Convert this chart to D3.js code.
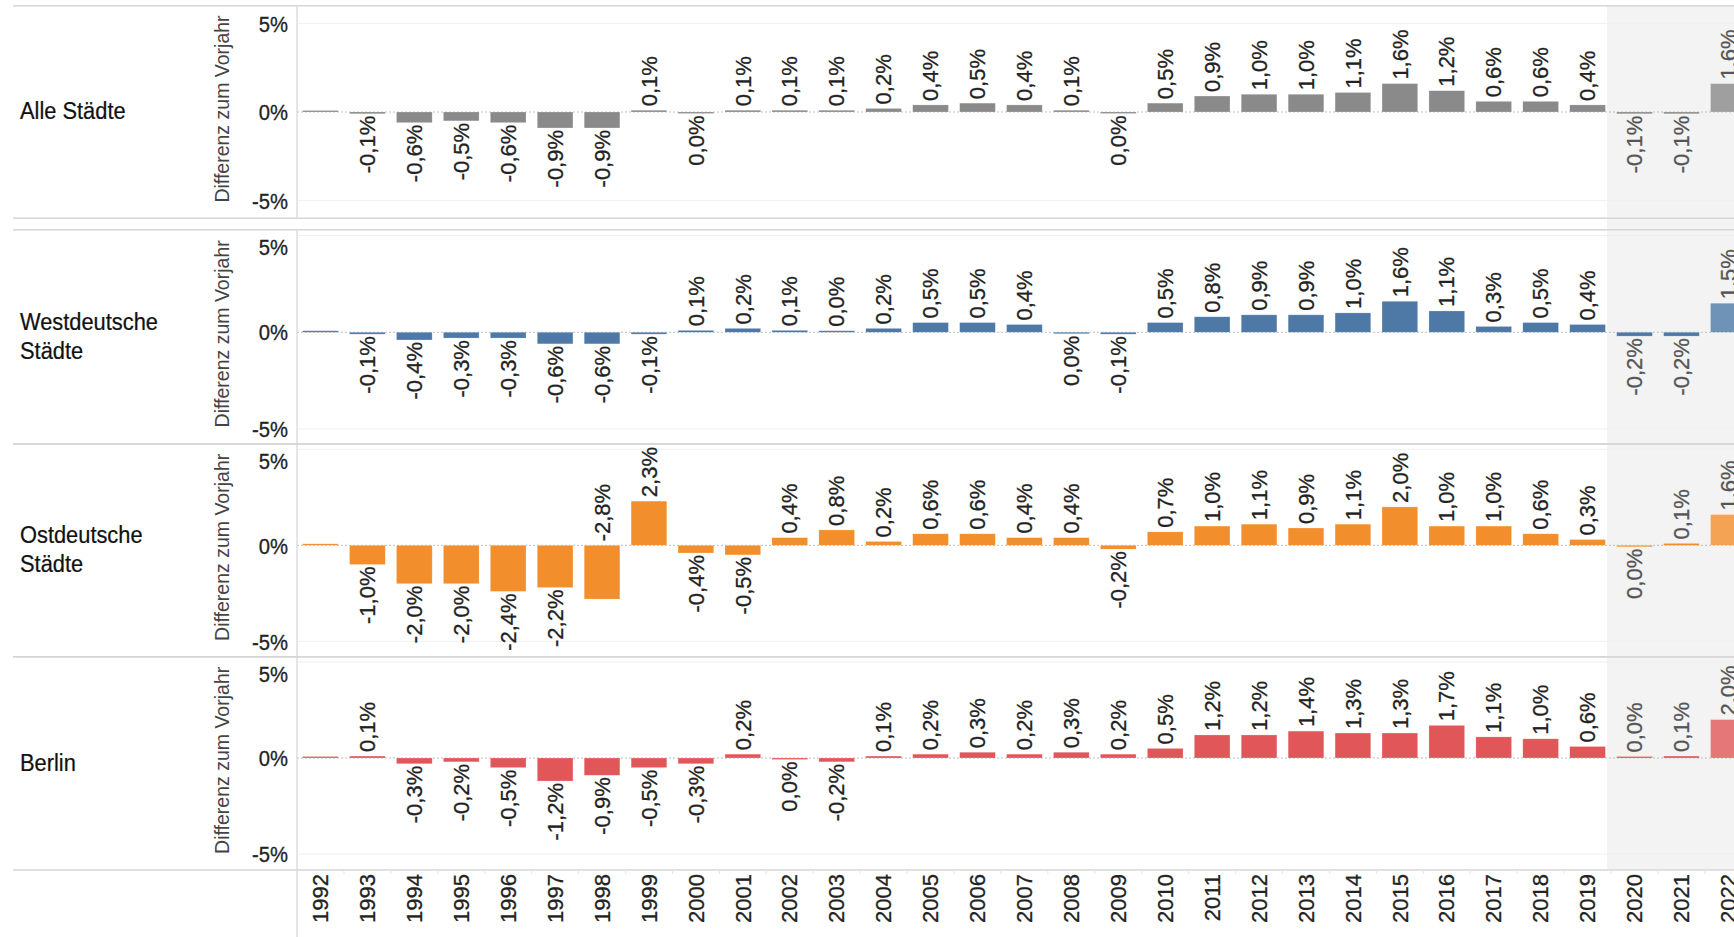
<!DOCTYPE html>
<html><head><meta charset="utf-8">
<script src="https://cdn.jsdelivr.net/npm/d3@7"></script>
<style>
html,body{margin:0;padding:0;background:#fff;overflow:hidden}
svg{display:block}
text{font-family:"Liberation Sans", Arial, sans-serif}
</style></head><body>
<svg id="chart" width="1734" height="937"></svg>
<script>
// ---------------- DATA ----------------
const years = [1992,1993,1994,1995,1996,1997,1998,1999,2000,2001,2002,2003,2004,2005,2006,2007,2008,2009,2010,2011,2012,2013,2014,2015,2016,2017,2018,2019,2020,2021,2022];
const rowLabels = [["Alle Städte"],["Westdeutsche","Städte"],["Ostdeutsche","Städte"],["Berlin"]];
// null = base year (no previous year)
const alleStaedte  = [null,-0.1,-0.6,-0.5,-0.6,-0.9,-0.9,0.1,-0.02,0.1,0.1,0.1,0.2,0.4,0.5,0.4,0.1,-0.02,0.5,0.9,1.0,1.0,1.1,1.6,1.2,0.6,0.6,0.4,-0.1,-0.1,1.6];
const westdeutsche = [null,-0.1,-0.4,-0.3,-0.3,-0.6,-0.6,-0.1,0.1,0.2,0.1,0.03,0.2,0.5,0.5,0.4,-0.03,-0.1,0.5,0.8,0.9,0.9,1.0,1.6,1.1,0.3,0.5,0.4,-0.2,-0.2,1.5];
const ostdeutsche  = [null,-1.0,-2.0,-2.0,-2.4,-2.2,-2.8,2.3,-0.4,-0.5,0.4,0.8,0.2,0.6,0.6,0.4,0.4,-0.2,0.7,1.0,1.1,0.9,1.1,2.0,1.0,1.0,0.6,0.3,-0.02,0.1,1.6];
const berlin       = [null,0.1,-0.3,-0.2,-0.5,-1.2,-0.9,-0.5,-0.3,0.2,-0.02,-0.2,0.1,0.2,0.3,0.2,0.3,0.2,0.5,1.2,1.2,1.4,1.3,1.3,1.7,1.1,1.0,0.6,0.02,0.1,2.0];
const seriesValues = [alleStaedte, westdeutsche, ostdeutsche, berlin];
const yTickValues = [5, 0, -5];
const highlightYears = [2020, 2021, 2022];
const lighterYears = [2022];
const axisTitle = "Differenz zum Vorjahr";

// ---------------- LAYOUT / STYLE ----------------
const W = 1734, H = 937;
const colors = ["#8a8a8a", "#4e79a7", "#f28e2b", "#e15759"];
const paneLeft = 297, step = 46.93;
const panels = [
  {top: 5.7,   bottom: 218.3, yPos: 23.3,  yNeg: 200.7},
  {top: 229.7, bottom: 444,   yPos: 235.5, yNeg: 429},
  {top: 444,   bottom: 656.7, yPos: 449.3, yNeg: 641.3},
  {top: 656.7, bottom: 870,   yPos: 662,   yNeg: 854}
];
const lineColor = "#d6d6d6";
const FONT = '"Liberation Sans", Arial, sans-serif';

const svg = d3.select("#chart");
const x = d3.scaleBand().domain(years)
  .range([paneLeft, paneLeft + step * years.length])
  .paddingInner(0.24).paddingOuter(0.12);
const bw = x.bandwidth();
const cx = y => x(y) + bw / 2;
const bandStart = y => cx(y) - step / 2;

const fmt = v => {
  const r = Math.round(v * 10) / 10;
  const s = Math.abs(r).toFixed(1).replace(".", ",");
  return (r < 0 && s !== "0,0" ? "-" : "") + s + "%";
};

// highlight shading
const shadeX = bandStart(highlightYears[0]) - 4;
svg.append("rect")
  .attr("x", shadeX).attr("y", panels[0].top)
  .attr("width", W - shadeX)
  .attr("height", panels[3].bottom - panels[0].top)
  .attr("fill", "#f3f3f3");

panels.forEach((p, i) => {
  const vals = seriesValues[i];
  const y = d3.scaleLinear().domain([-5, 5]).range([p.yNeg, p.yPos]);
  const g = svg.append("g");
  const y0 = y(0);

  // gridlines at +-5
  g.selectAll("line.grid").data(yTickValues.filter(d => d !== 0)).join("line")
    .attr("x1", paneLeft).attr("x2", W)
    .attr("y1", d => y(d)).attr("y2", d => y(d))
    .attr("stroke", "#efefef").attr("stroke-width", 1);

  // zero line (dotted)
  g.append("line").attr("x1", paneLeft).attr("x2", W).attr("y1", y0).attr("y2", y0)
    .attr("stroke", "#bdbdbd").attr("stroke-width", 1).attr("stroke-dasharray", "2,2");

  // bars
  const data = years.map((yr, j) => ({yr, v: vals[j]}));
  g.selectAll("rect.bar").data(data).join("rect")
    .attr("x", d => x(d.yr)).attr("width", bw)
    .attr("y", d => {
      const v = d.v === null ? 0 : d.v;
      const h = Math.max(1.5, Math.abs(y(v) - y0));
      return v >= 0 ? y0 - h : y0;
    })
    .attr("height", d => Math.max(1.5, Math.abs(y(d.v === null ? 0 : d.v) - y0)))
    .attr("fill", colors[i])
    .attr("fill-opacity", d => lighterYears.includes(d.yr) ? 0.8 : 1)
    .attr("stroke", "#ffffff").attr("stroke-opacity", 0.35).attr("stroke-width", 0.6);

  // value labels
  data.filter(d => d.v !== null).forEach(d => {
    const col = highlightYears.includes(d.yr) ? "#555" : "#222";
    const t = g.append("text")
      .attr("font-size", 22)
      .attr("fill", col).attr("stroke", col).attr("stroke-width", 0.3)
      .attr("dy", "0.35em")
      .text(fmt(d.v));
    const len = t.node().getComputedTextLength();
    let ay, anchor;
    if (d.v >= 0) { ay = y(d.v) - 4; anchor = "start"; if (Math.abs(y(d.v)-y0) < 1.5) ay = y0 - 5.5; }
    else {
      const yb = Math.max(y(d.v), y0 + 1.5);
      if (yb + 2 + len > p.bottom - 2) { ay = y0 - 4; anchor = "start"; }
      else { ay = yb + 2; anchor = "end"; }
    }
    t.attr("text-anchor", anchor).attr("transform", `translate(${cx(d.yr)},${ay}) rotate(-90)`);
  });

  // y axis
  const ax = g.append("g").attr("transform", `translate(${paneLeft - 9},0)`)
    .call(d3.axisLeft(y).tickValues(yTickValues).tickFormat(d => `${d}%`).tickSize(0).tickPadding(0));
  ax.select(".domain").remove();
  ax.selectAll(".tick text")
    .attr("font-size", 22).attr("fill", "#222").attr("stroke", "#222").attr("stroke-width", 0.3)
    .attr("font-family", FONT)
    .attr("dy", "0.35em")
    .attr("transform", d => `translate(0,${d === 5 ? Math.max(0, p.top + 17 - y(5)) : 0}) scale(0.92,1)`);

  // axis title
  const mid = (p.top + p.bottom) / 2;
  g.append("text").attr("transform", `translate(229,${mid - 3}) rotate(-90)`)
    .attr("text-anchor", "middle").attr("font-size", 19.5).attr("fill", "#444")
    .text(axisTitle);

  // row label
  const lines = rowLabels[i];
  lines.forEach((ln, k) => {
    g.append("text")
      .attr("transform", `translate(20,${mid + (k - (lines.length - 1) / 2) * 29 - 1}) scale(0.91,1)`)
      .attr("dy", "0.35em").attr("font-size", 24).attr("fill", "#111")
      .attr("stroke", "#111").attr("stroke-width", 0.25).text(ln);
  });

  // borders
  [p.top, p.bottom].forEach(yy => {
    svg.append("line").attr("x1", 13).attr("x2", W).attr("y1", yy).attr("y2", yy)
      .attr("stroke", lineColor).attr("stroke-width", 1.5);
  });
  svg.append("line").attr("x1", paneLeft).attr("x2", paneLeft).attr("y1", p.top).attr("y2", p.bottom)
    .attr("stroke", lineColor).attr("stroke-width", 1.2);
});

// x axis area
const axBottom = panels[3].bottom;
svg.append("line").attr("x1", paneLeft).attr("x2", paneLeft).attr("y1", axBottom).attr("y2", H)
  .attr("stroke", lineColor).attr("stroke-width", 1.2);
const xa = svg.append("g").attr("transform", `translate(0,${axBottom})`)
  .call(d3.axisBottom(x).tickSize(0).tickPadding(0));
xa.select(".domain").remove();
xa.selectAll(".tick text")
  .attr("font-size", 22).attr("fill", "#222").attr("stroke", "#222").attr("stroke-width", 0.3)
  .attr("font-family", FONT)
  .attr("text-anchor", "end").attr("dy", "0.35em")
  .attr("transform", "translate(0,4) rotate(-90)").attr("y", 0).attr("x", 0);
// band separators
svg.selectAll("line.sep").data(years.slice(1)).join("line")
  .attr("x1", d => bandStart(d)).attr("x2", d => bandStart(d))
  .attr("y1", axBottom).attr("y2", axBottom + 4)
  .attr("stroke", "#e6e6e6").attr("stroke-width", 1);
</script>
</body></html>
